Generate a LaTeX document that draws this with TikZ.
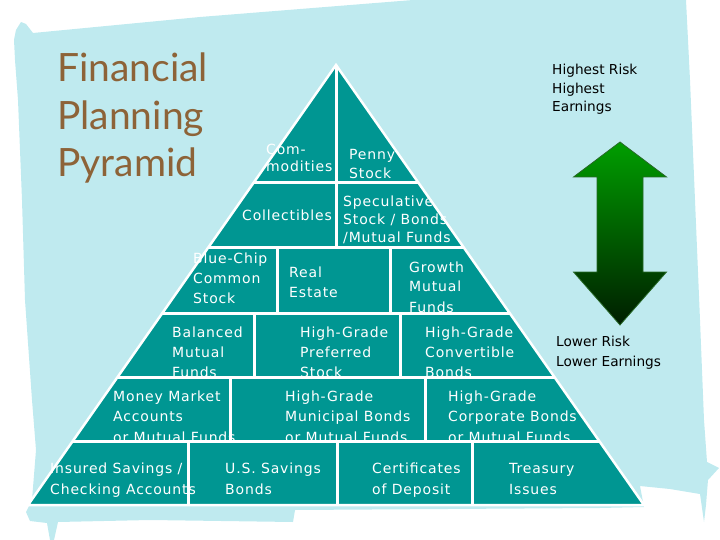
\documentclass[tikz,border=0pt]{standalone}
\usepackage{fontspec}
\setmainfont{DejaVu Sans}
\newfontfamily\wfont[LetterSpace=6]{DejaVu Sans}
\newfontfamily\titlefont{Lato}
\definecolor{bgblue}{RGB}{191,234,239}
\definecolor{pyrteal}{RGB}{0,150,146}
\definecolor{titlebrown}{RGB}{141,99,56}
\definecolor{arrowtop}{RGB}{0,158,0}
\definecolor{arrowbot}{RGB}{0,30,0}
\definecolor{arrowline}{RGB}{40,105,40}
\newcommand\ml[1]{\begin{tabular}[t]{@{}l@{}}#1\end{tabular}}
\begin{document}
\begin{tikzpicture}[x=1pt,y=-1pt,
  wt/.style={text=white, font=\wfont\fontsize{14}{20}\selectfont, anchor=base west, inner sep=0pt},
  bt/.style={text=black, font=\fontsize{13.7}{18.5}\selectfont, anchor=base west, inner sep=0pt},
  tt/.style={text=titlebrown, font=\titlefont\fontsize{39}{47.5}\selectfont, anchor=base west, inner sep=0pt},
  divline/.style={white, line width=3pt}]
\useasboundingbox (0,0) rectangle (720,540);
% background blob
\fill[bgblue] (14,40) -- (16,30) -- (21,22) -- (26,24) -- (33,33) -- (200,17) -- (413,0) -- (686,0)
  -- (690,80) -- (695,200) -- (700,320) -- (704,420) -- (707,462) -- (719,468) -- (708,480)
  -- (706,505) -- (704,522) -- (700,494) -- (670,489) -- (640,486) -- (644,507) -- (600,508)
  -- (295,510) -- (293,522) -- (150,520) -- (58,522) -- (54,540) -- (50,540) -- (47,523)
  -- (30,521) -- (26,512) -- (32,500) -- (36,450) -- (32,400) -- (25,300) -- (22,200) -- (18,100) -- (15,60) -- cycle;
% pyramid
\coordinate (apex) at (336,65);
\coordinate (bl) at (28,505);
\coordinate (br) at (644,505);
\fill[pyrteal] (apex) -- (br) -- (bl) -- cycle;
% texts
\node[wt, font=\wfont\fontsize{14}{17}\selectfont] (comm) at (266,155) {\ml{Com-\\modities}};
\node[wt, font=\wfont\fontsize{14}{19}\selectfont] (penny) at (349,160) {\ml{Penny\\Stock}};
\node[wt] (coll) at (242,221) {Collectibles};
\node[wt, font=\wfont\fontsize{14}{18}\selectfont] (spec) at (343,207) {\ml{Speculative\\Stock / Bonds\\/Mutual Funds}};
\node[wt] (blue) at (193,263) {\ml{Blue-Chip\\Common\\Stock}};
\node[wt] (real) at (289,277) {\ml{Real\\Estate}};
\node[wt] (grow) at (409,272) {\ml{Growth\\Mutual\\Funds}};
\node[wt] (bal) at (172,337) {\ml{Balanced\\Mutual\\Funds}};
\node[wt] (pref) at (300,337) {\ml{High-Grade\\Preferred\\Stock}};
\node[wt] (conv) at (425,337) {\ml{High-Grade\\Convertible\\Bonds}};
\node[wt, font=\wfont\fontsize{14}{20.5}\selectfont] (money) at (113,401) {\ml{Money Market\\Accounts\\or Mutual Funds}};
\node[wt, font=\wfont\fontsize{14}{20.5}\selectfont] (muni) at (285,401) {\ml{High-Grade\\Municipal Bonds\\or Mutual Funds}};
\node[wt, font=\wfont\fontsize{14}{20.5}\selectfont] (corp) at (448,401) {\ml{High-Grade\\Corporate Bonds\\or Mutual Funds}};
\node[wt, font=\wfont\fontsize{14}{21}\selectfont] (ins) at (50,473) {\ml{Insured Savings /\\Checking Accounts}};
\node[wt, font=\wfont\fontsize{14}{21}\selectfont] (uss) at (225,473) {\ml{U.S. Savings\\Bonds}};
\node[wt, font=\wfont\fontsize{14}{21}\selectfont] (cert) at (372,473) {\ml{Certificates\\of Deposit}};
\node[wt, font=\wfont\fontsize{14}{21}\selectfont] (tre) at (509,473) {\ml{Treasury\\Issues}};
% dividing lines (drawn over text, as in the original)
\draw[divline] (253.4,183) -- (418.6,183);
\draw[divline] (208.6,247) -- (463.4,247);
\draw[divline] (162.4,313) -- (509.6,313);
\draw[divline] (117.6,377) -- (554.4,377);
\draw[divline] (72.8,441) -- (599.2,441);
\draw[divline] (336,65) -- (336,247);
\draw[divline] (277,247) -- (277,313);
\draw[divline] (390,247) -- (390,313);
\draw[divline] (254,313) -- (254,377);
\draw[divline] (400,313) -- (400,377);
\draw[divline] (230,377) -- (230,441);
\draw[divline] (425,377) -- (425,441);
\draw[divline] (188,441) -- (188,505);
\draw[divline] (337,441) -- (337,505);
\draw[divline] (472,441) -- (472,505);
\draw[white, line width=2.5pt, line join=miter] (apex) -- (br) -- (bl) -- cycle;
% arrow
\shade[top color=arrowtop, bottom color=arrowbot, draw=arrowline, line width=0.8pt]
  (620,142) -- (666.5,177) -- (643,177) -- (643,272) -- (666.5,272) -- (620,325)
  -- (573.5,272) -- (597,272) -- (597,177) -- (573.5,177) -- cycle;
% black labels
\node[bt] (high) at (552,75) {\ml{Highest Risk\\Highest\\Earnings}};
\node[bt, font=\fontsize{13.7}{20}\selectfont] (low) at (556,346) {\ml{Lower Risk\\Lower Earnings}};
% title
\node[tt] (title) at (57,82) {\ml{Financial\\Planning\\Pyramid}};
\end{tikzpicture}
\end{document}
